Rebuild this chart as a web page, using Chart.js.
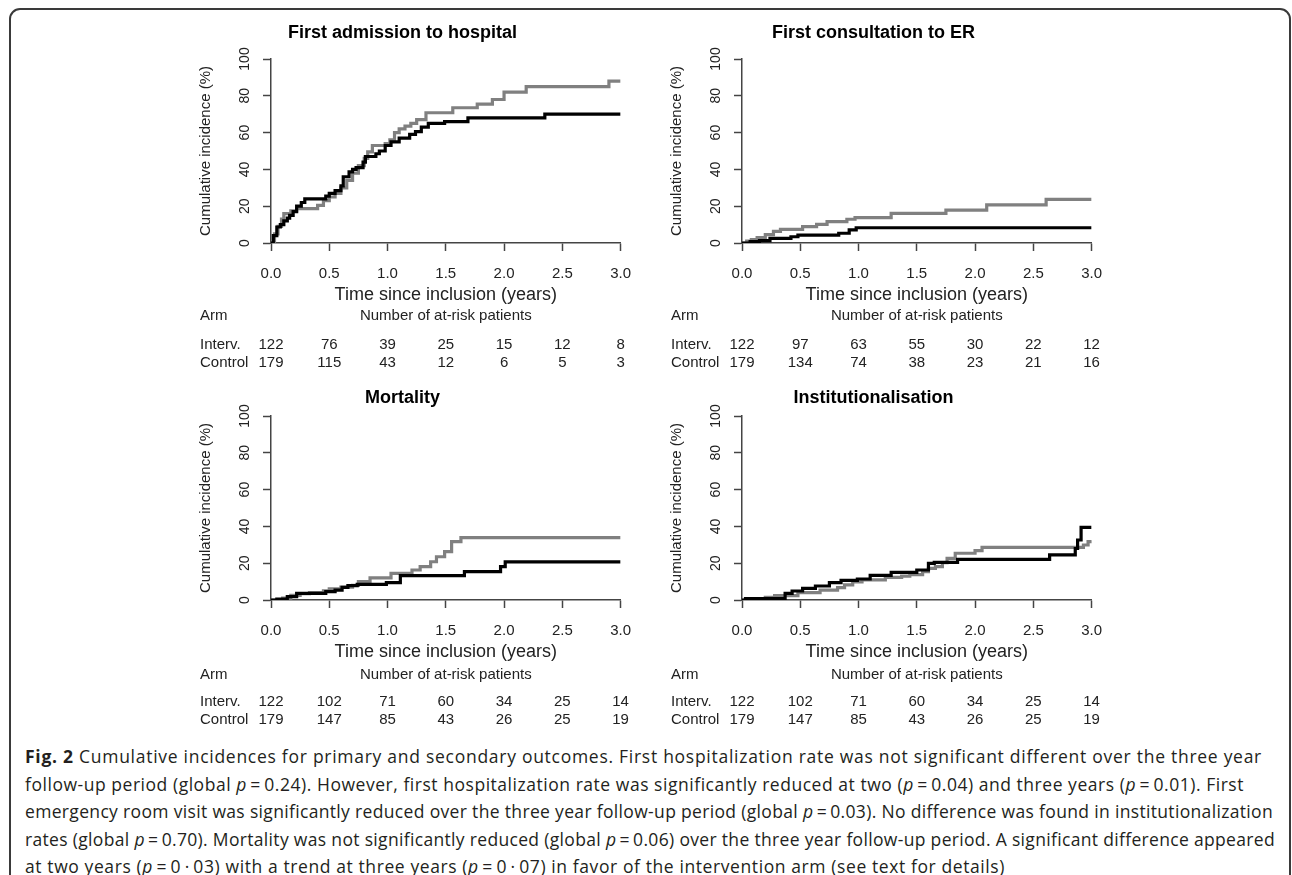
<!DOCTYPE html>
<html>
<head>
<meta charset="utf-8">
<title>Cumulative incidences</title>
<script src="https://cdn.jsdelivr.net/npm/chart.js@4.4.1/dist/chart.umd.min.js"></script>
<style>
  body { margin: 0; background: #fff; width: 1292px; height: 875px; overflow: hidden; position: relative; }
  .frame { position: absolute; left: 9px; top: 8px; width: 1278px; height: 900px; border: 2px solid #3a3a3a; border-radius: 11px; }
  canvas.panel { position: absolute; }
  .caption { position: absolute; left: 25px; top: 743px; font-family: "Open Sans", "Noto Sans", sans-serif; font-size: 17.5px; line-height: 27.5px; color: #231f20; white-space: nowrap; }
  .caption > div { width: max-content; }
  .caption b { font-weight: 700; }
</style>
</head>
<body>
<div class="frame"></div>
<canvas id="hosp" class="panel" width="465" height="360" style="left:180px;top:15px"></canvas>
<canvas id="er" class="panel" width="465" height="360" style="left:651px;top:15px"></canvas>
<canvas id="mort" class="panel" width="465" height="360" style="left:180px;top:372px"></canvas>
<canvas id="inst" class="panel" width="465" height="360" style="left:651px;top:372px"></canvas>

<div class="caption">
  <div data-w="1237"><b>Fig. 2</b> Cumulative incidences for primary and secondary outcomes. First hospitalization rate was not significant different over the three year</div>
  <div data-w="1219">follow-up period (global <i>p</i>&thinsp;=&thinsp;0.24). However, first hospitalization rate was significantly reduced at two (<i>p</i>&thinsp;=&thinsp;0.04) and three years (<i>p</i>&thinsp;=&thinsp;0.01). First</div>
  <div data-w="1248">emergency room visit was significantly reduced over the three year follow-up period (global <i>p</i>&thinsp;=&thinsp;0.03). No difference was found in institutionalization</div>
  <div data-w="1250">rates (global <i>p</i>&thinsp;=&thinsp;0.70). Mortality was not significantly reduced (global <i>p</i>&thinsp;=&thinsp;0.06) over the three year follow-up period. A significant difference appeared</div>
  <div data-w="980">at two years (<i>p</i>&thinsp;=&thinsp;0&thinsp;·&thinsp;03) with a trend at three years (<i>p</i>&thinsp;=&thinsp;0&thinsp;·&thinsp;07) in favor of the intervention arm (see text for details)</div>
</div>

<script>
// times (years) at which the at-risk numbers are given
const riskTimes = [0, 0.5, 1.0, 1.5, 2.0, 2.5, 3.0];
const yTicks = [0, 20, 40, 60, 80, 100];

// First admission to hospital
const hospIntervT = [0, 0.02, 0.05, 0.08, 0.11, 0.14, 0.16, 0.19, 0.22, 0.26, 0.29, 0.47, 0.5, 0.55, 0.6, 0.62, 0.67, 0.7, 0.73, 0.79, 0.81, 0.9, 0.93, 0.98, 1.03, 1.1, 1.19, 1.24, 1.29, 1.35, 1.49, 1.69, 2.35, 3.0];
const hospIntervV = [0, 4, 8.7, 10, 12, 13.5, 15, 17, 20, 22, 24, 25.5, 27, 28.5, 31, 36, 38.7, 40, 41, 44, 47, 48.5, 50, 53, 55, 57, 59, 60.5, 63, 65, 66, 68, 70, 70];
const hospControlT = [0, 0.03, 0.06, 0.09, 0.11, 0.17, 0.22, 0.4, 0.45, 0.5, 0.55, 0.6, 0.65, 0.7, 0.75, 0.8, 0.83, 0.87, 0.98, 1.02, 1.06, 1.1, 1.15, 1.2, 1.25, 1.33, 1.56, 1.77, 1.9, 2.0, 2.19, 2.9, 3.0];
const hospControlV = [0, 5, 9, 13, 16, 17.5, 18.7, 20.5, 23, 25, 27, 30, 34, 38, 42, 46, 49.5, 53, 54, 56, 60, 62, 63.5, 65, 67, 70.8, 73.5, 75.5, 78, 82, 85, 88, 88];
const hospRiskInterv = [122, 76, 39, 25, 15, 12, 8];
const hospRiskControl = [179, 115, 43, 12, 6, 5, 3];

// First consultation to ER
const erIntervT = [0, 0.07, 0.15, 0.24, 0.42, 0.48, 0.83, 0.92, 0.98, 3.0];
const erIntervV = [0, 0.8, 1.3, 2.5, 3.4, 4.3, 5.3, 7.1, 8.3, 8.3];
const erControlT = [0, 0.04, 0.08, 0.13, 0.2, 0.27, 0.33, 0.52, 0.64, 0.73, 0.9, 0.97, 1.28, 1.75, 2.1, 2.61, 3.0];
const erControlV = [0, 1, 1.8, 3, 4.5, 6.3, 7.4, 8.9, 10.1, 11.6, 12.9, 13.8, 16.1, 17.9, 20.7, 23.7, 23.7];
const erRiskInterv = [122, 97, 63, 55, 30, 22, 12];
const erRiskControl = [179, 134, 74, 38, 23, 21, 16];

// Mortality
const mortIntervT = [0, 0.05, 0.14, 0.22, 0.47, 0.55, 0.61, 0.66, 0.74, 0.99, 1.11, 1.66, 1.97, 2.01, 3.0];
const mortIntervV = [0, 0.5, 1.8, 3.6, 4.5, 5.4, 6.9, 7.8, 8.5, 9.4, 13.2, 15.4, 18.1, 20.7, 20.7];
const mortControlT = [0, 0.1, 0.17, 0.25, 0.33, 0.45, 0.5, 0.6, 0.7, 0.75, 0.85, 1.03, 1.21, 1.28, 1.37, 1.42, 1.49, 1.55, 1.63, 3.0];
const mortControlV = [0, 1, 2.5, 3.5, 4, 5, 6, 7, 8, 10, 12, 14.5, 16.3, 18.1, 20.8, 23.5, 26.3, 31.7, 33.9, 33.9];
const mortRiskInterv = [122, 102, 71, 60, 34, 25, 14];
const mortRiskControl = [179, 147, 85, 43, 26, 25, 19];

// Institutionalisation
const instIntervT = [0, 0.03, 0.37, 0.43, 0.52, 0.63, 0.75, 0.85, 0.99, 1.1, 1.28, 1.5, 1.6, 1.65, 1.85, 2.64, 2.86, 2.88, 2.91, 3.0];
const instIntervV = [0, 0.8, 3.6, 4.9, 6.3, 7.6, 9.4, 10.7, 11.4, 13.4, 15, 16.3, 19.9, 20.5, 22.1, 24.5, 28, 32.6, 39.5, 39.5];
const instControlT = [0, 0.05, 0.2, 0.28, 0.48, 0.67, 0.82, 0.88, 0.95, 1.03, 1.23, 1.37, 1.44, 1.55, 1.6, 1.66, 1.72, 1.76, 1.83, 2.0, 2.06, 2.93, 2.97, 3.0];
const instControlV = [0, 0.5, 1.5, 2.4, 4, 5.4, 6.7, 8.2, 9.8, 10.9, 12.3, 13, 13.8, 15.4, 17.2, 18.1, 20.3, 22.6, 25.4, 26.8, 28.6, 29.9, 31.7, 32.5];
const instRiskInterv = mortRiskInterv;
const instRiskControl = mortRiskControl;

const FONT = '"Liberation Sans", Arial, sans-serif';
const AXIS = '#444';

const toPoints = (t, v) => t.map((x, i) => ({ x: x, y: v[i] }));

// rotated y tick labels + the table of at-risk patients under each panel
const riskTablePlugin = {
  id: 'riskTable',
  afterDraw(chart) {
    const { ctx, chartArea, scales } = chart;
    const o = chart.options.plugins.riskTable;
    const x = scales.x, y = scales.y;
    ctx.save();
    ctx.fillStyle = '#222';
    ctx.textBaseline = 'middle';

    ctx.font = '14px ' + FONT;
    ctx.textAlign = 'center';
    yTicks.forEach(v => {
      ctx.save();
      ctx.translate(chartArea.left - 26, y.getPixelForValue(v));
      ctx.rotate(-Math.PI / 2);
      ctx.fillText(String(v), 0, 0);
      ctx.restore();
    });

    ctx.font = '15px ' + FONT;
    const lx = chartArea.left - 71;
    const base = chartArea.bottom;
    ctx.textAlign = 'left';
    ctx.fillText('Arm', lx, base + o.headY);
    ctx.textAlign = 'center';
    ctx.fillText('Number of at-risk patients', (chartArea.left + chartArea.right) / 2, base + o.headY);

    [['Interv.', o.interv, 102], ['Control', o.control, 120]].forEach(([label, nums, dy]) => {
      ctx.textAlign = 'left';
      ctx.fillText(label, lx, base + dy);
      ctx.textAlign = 'center';
      nums.forEach((n, j) => ctx.fillText(String(n), x.getPixelForValue(riskTimes[j]), base + dy));
    });
    ctx.restore();
  }
};

function makePanel(id, title, titleTop, headY, interv, control, riskI, riskC) {
  const axisGrid = { drawOnChartArea: false, tickLength: 8, tickWidth: 1.5, tickColor: AXIS, color: AXIS };
  const axisBorder = { display: true, color: AXIS, width: 1.5 };
  new Chart(document.getElementById(id), {
    type: 'line',
    data: {
      datasets: [
        { data: toPoints(interv[0], interv[1]), borderColor: '#000', borderWidth: 3.2, stepped: true, pointRadius: 0, fill: false },
        { data: toPoints(control[0], control[1]), borderColor: '#808080', borderWidth: 3.2, stepped: true, pointRadius: 0, fill: false }
      ]
    },
    options: {
      responsive: false,
      animation: false,
      events: [],
      layout: { padding: { left: 0, right: 20, top: 0, bottom: 68 } },
      scales: {
        x: {
          type: 'linear', min: 0, max: 3,
          ticks: { stepSize: 0.5, padding: 14, autoSkip: false, maxRotation: 0, color: '#222', font: { family: FONT, size: 15 }, callback: v => v.toFixed(1) },
          grid: axisGrid,
          border: axisBorder,
          title: { display: true, text: 'Time since inclusion (years)', color: '#222', font: { family: FONT, size: 18 }, padding: { top: 0, bottom: 1.5 } },
          afterFit: s => { s.height = 64; }
        },
        y: {
          type: 'linear', min: 0, max: 100,
          ticks: { stepSize: 20, display: false },
          grid: axisGrid,
          border: axisBorder,
          title: { display: true, text: 'Cumulative incidence (%)', color: '#222', font: { family: FONT, size: 15 }, padding: { top: 17, bottom: 0 } },
          afterFit: s => { s.width = 91; }
        }
      },
      plugins: {
        legend: { display: false },
        tooltip: { enabled: false },
        title: { display: true, text: title, color: '#000', font: { family: FONT, size: 18, weight: 'bold' }, padding: { top: titleTop, bottom: 44 - 21.6 - titleTop } },
        riskTable: { headY: headY, interv: riskI, control: riskC }
      }
    },
    plugins: [riskTablePlugin]
  });
}

makePanel('hosp', 'First admission to hospital', 7.2, 73, [hospIntervT, hospIntervV], [hospControlT, hospControlV], hospRiskInterv, hospRiskControl);
makePanel('er', 'First consultation to ER', 7.2, 73, [erIntervT, erIntervV], [erControlT, erControlV], erRiskInterv, erRiskControl);
makePanel('mort', 'Mortality', 15.2, 75, [mortIntervT, mortIntervV], [mortControlT, mortControlV], mortRiskInterv, mortRiskControl);
makePanel('inst', 'Institutionalisation', 15.2, 75, [instIntervT, instIntervV], [instControlT, instControlV], instRiskInterv, instRiskControl);

// stretch each caption line to the width it has in the printed figure
document.querySelectorAll('.caption > div').forEach(line => {
  const natural = line.getBoundingClientRect().width;
  const chars = line.textContent.trim().length;
  line.style.letterSpacing = ((Number(line.dataset.w) - natural) / chars).toFixed(3) + 'px';
});
</script>
</body>
</html>
